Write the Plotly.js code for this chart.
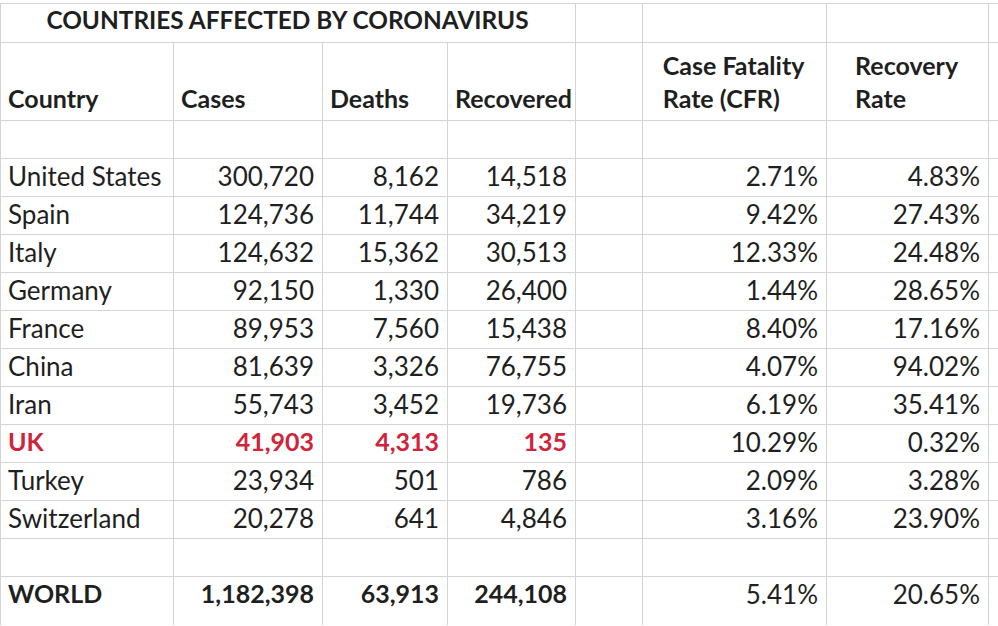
<!DOCTYPE html>
<html><head><meta charset="utf-8">
<script src="https://cdn.plot.ly/plotly-3.0.1.min.js"></script>
<style>html,body{margin:0;padding:0;background:#fff}#chart{width:998px;height:626px}</style>
</head><body><div id="chart"></div>
<script>
// ---- data ----
const tableTitle = "COUNTRIES AFFECTED BY CORONAVIRUS";
const headers = ["Country", "Cases", "Deaths", "Recovered", "", "Case Fatality<br>Rate (CFR)", "Recovery<br>Rate", ""];
const countries = ["United States", "Spain", "Italy", "Germany", "France", "China", "Iran", "UK", "Turkey", "Switzerland"];
const cases = [300720, 124736, 124632, 92150, 89953, 81639, 55743, 41903, 23934, 20278];
const deaths = [8162, 11744, 15362, 1330, 7560, 3326, 3452, 4313, 501, 641];
const recovered = [14518, 34219, 30513, 26400, 15438, 76755, 19736, 135, 786, 4846];
const cfr = [2.71, 9.42, 12.33, 1.44, 8.40, 4.07, 6.19, 10.29, 2.09, 3.16];
const recoveryRate = [4.83, 27.43, 24.48, 28.65, 17.16, 94.02, 35.41, 0.32, 3.28, 23.90];
const worldLabel = "WORLD";
const worldTotals = [1182398, 63913, 244108];   // cases, deaths, recovered
const worldRates = [5.41, 20.65];               // CFR, recovery rate
const highlightCountry = "UK";

// ---- layout constants ----
const W = 998, H = 626;
const colWidths = [173, 149, 125, 128, 67, 184, 162, 10];
const titleRowTop = 3, titleRowBottom = 42, headerBottom = 118, rowH = 38;
const bodyBottom = headerBottom + 13 * rowH;
const textColor = "#1f1f1f", red = "#d1233a", gridColor = "#d4d4d4";
const fontFamily = "Lato, 'Open Sans', sans-serif";
const fontSize = 26, boldSize = 25, headerSize = 25, titleSize = 24.4;

const fmtInt = v => v.toLocaleString("en-US");
const fmtPct = v => v.toFixed(2) + "%";
const noWrap = s => s.replace(/ /g, "\u00a0");

const isHi = countries.map(c => c === highlightCountry);
function col(main, fmt, worldVal) {
  return [""].concat(main.map(fmt), [""], [typeof worldVal === "number" ? fmt(worldVal) : worldVal]);
}
const nRows = countries.length + 3;
const blankCol = Array(nRows).fill("");
const bodyValues = [
  col(countries, noWrap, worldLabel),
  col(cases, fmtInt, worldTotals[0]),
  col(deaths, fmtInt, worldTotals[1]),
  col(recovered, fmtInt, worldTotals[2]),
  blankCol,
  col(cfr, fmtPct, worldRates[0]),
  col(recoveryRate, fmtPct, worldRates[1]),
  blankCol
];
function styleCol(emph, onHi, onWorld, normal) {
  const out = [normal];
  isHi.forEach(h => out.push(h && emph ? onHi : normal));
  out.push(normal, emph ? onWorld : normal);
  return out;
}
const emphCols = [true, true, true, true, false, false, false, false];
const bodyColors = emphCols.map(e => styleCol(e, red, textColor, textColor));
const bodyWeights = emphCols.map(e => styleCol(e, "bold", "bold", "normal"));
const bodySizes = emphCols.map(e => styleCol(e, boldSize, boldSize, fontSize));

const py = px => 1 - px / H;
const line = {color: gridColor, width: 1};
const fill = {color: "#ffffff"};

// title row: header holds the title; its single (blank) body row lies underneath the main table
const titleCols = [colWidths[0] + colWidths[1] + colWidths[2] + colWidths[3], colWidths[4], colWidths[5], colWidths[6], colWidths[7]];
const titleTable = {
  type: "table",
  domain: {x: [0, 1], y: [py(titleRowBottom + rowH), py(titleRowTop)]},
  columnwidth: titleCols,
  header: {
    values: [noWrap(tableTitle), "", "", "", ""],
    height: titleRowBottom - titleRowTop,
    align: "center",
    line: line, fill: fill,
    font: {family: fontFamily, size: titleSize, color: textColor, weight: "bold"}
  },
  cells: {values: titleCols.map(() => [""]), height: rowH, line: line, fill: fill,
          font: {family: fontFamily, size: fontSize, color: textColor}}
};

// partial empty row below the table (its header lies underneath the main table)
const footHeader = 52 - rowH;
const footTable = {
  type: "table",
  domain: {x: [0, 1], y: [0, py(H - 52)]},
  columnwidth: colWidths,
  header: {values: colWidths.map(() => ""), height: footHeader, line: line, fill: fill,
           font: {family: fontFamily, size: 12, color: textColor}},
  cells: {values: colWidths.map(() => [""]), height: rowH, line: line, fill: fill,
          font: {family: fontFamily, size: fontSize, color: textColor}}
};

const bodyTable = {
  type: "table",
  domain: {x: [0, 1], y: [py(bodyBottom), py(titleRowBottom)]},
  columnwidth: colWidths,
  header: {
    values: headers.map(h => h === "" ? "" : (h.indexOf("<br>") >= 0 ? h : "\u00a0<br>" + h)),
    height: headerBottom - titleRowBottom,
    align: ["left", "left", "left", "left", "center", "center", "center", "center"],
    line: line, fill: fill,
    font: {family: fontFamily, size: headerSize, color: textColor, weight: "bold"}
  },
  cells: {
    values: bodyValues,
    height: rowH,
    align: ["left", "right", "right", "right", "right", "right", "right", "right"],
    line: line, fill: fill,
    font: {family: fontFamily, size: bodySizes, color: bodyColors, weight: bodyWeights}
  }
};

const layout = {
  width: W, height: H,
  margin: {l: 0, r: 0, t: 0, b: 0},
  paper_bgcolor: "#ffffff",
  showlegend: false
};

Plotly.newPlot("chart", [footTable, titleTable, bodyTable], layout, {displayModeBar: false});
</script>
</body></html>
